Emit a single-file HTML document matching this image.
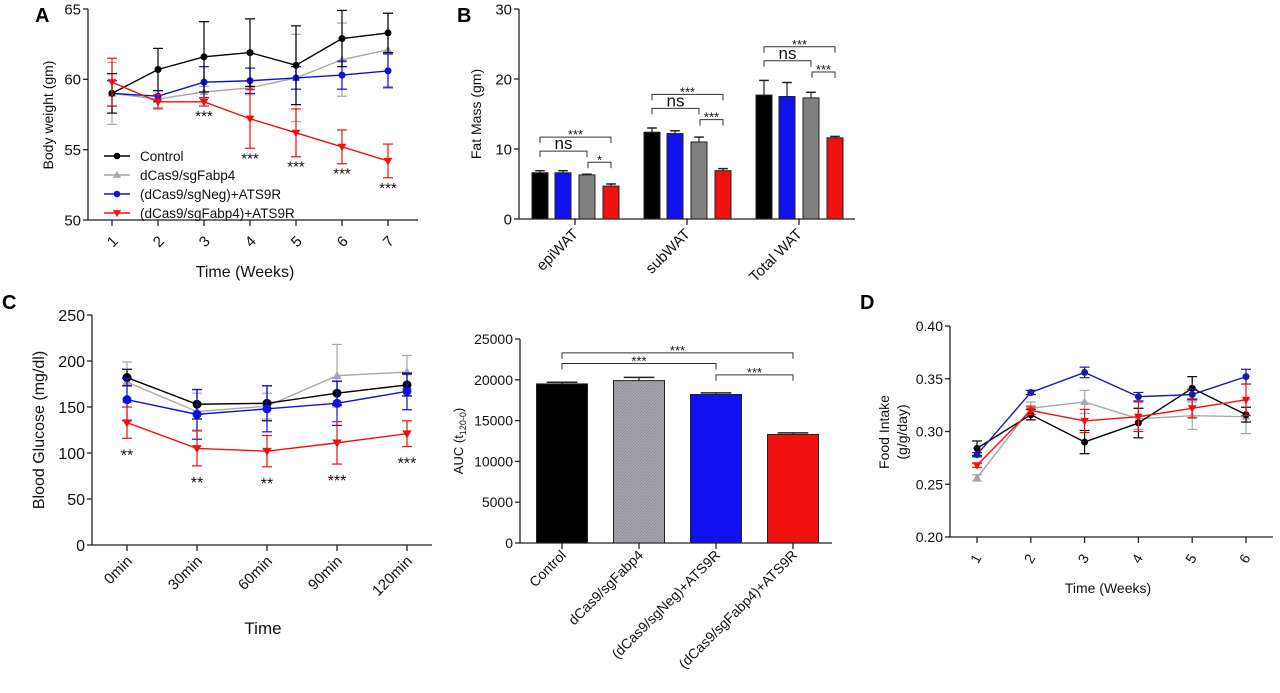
<!DOCTYPE html>
<html><head><meta charset="utf-8"><style>
html,body{margin:0;padding:0;background:#fff;}
svg{display:block;font-family:"Liberation Sans",Arial,sans-serif;}
</style></head><body>
<svg id="fig" width="1280" height="693" viewBox="0 0 1280 693" xmlns="http://www.w3.org/2000/svg">
<defs>
<pattern id="hatch" width="3" height="3" patternUnits="userSpaceOnUse"><rect width="3" height="3" fill="#a8a8ae"/><path d="M0,3 L3,0" stroke="#8a8a90" stroke-width="0.8"/></pattern>
</defs>
<text x="35" y="22" font-size="20" font-weight="bold">A</text>
<text x="457" y="22" font-size="20" font-weight="bold">B</text>
<text x="2" y="309" font-size="20" font-weight="bold">C</text>
<text x="860" y="309" font-size="20" font-weight="bold">D</text>
</svg>
<script>
// ---------- DATA ----------
const groups = ["Control","dCas9/sgFabp4","(dCas9/sgNeg)+ATS9R","(dCas9/sgFabp4)+ATS9R"];
const colors = ["#000000","#a8a8a8","#1010e0","#f01010"];
const markers = ["circle","triUp","circle","triDown"];

const weekLabelsA = ["1","2","3","4","5","6","7"];
const bwControl = [59.0,60.7,61.6,61.9,61.0,62.9,63.3];
const bwControlErr = [1.4,1.5,2.5,2.4,2.8,2.0,1.4];
const bwFabp4 = [59.0,58.6,59.1,59.4,60.1,61.4,62.1];
const bwFabp4Err = [2.2,0.6,0.4,0.5,3.1,2.6,2.6];
const bwNeg = [59.0,58.8,59.8,59.9,60.1,60.3,60.6];
const bwNegErr = [0.9,0.4,1.1,0.9,0.8,1.0,1.2];
const bwFabp4ATS = [59.8,58.4,58.4,57.2,56.2,55.2,54.2];
const bwFabp4ATSErr = [1.7,0.5,0.3,2.1,1.7,1.2,1.2];
const bwStars = ["","","***","***","***","***","***"];
const ticksA = [50,55,60,65];

const fatCats = ["epiWAT","subWAT","Total WAT"];
const fatControl = [6.6,12.4,17.7];
const fatControlErr = [0.3,0.6,2.1];
const fatNeg = [6.6,12.2,17.5];
const fatNegErr = [0.3,0.4,2.0];
const fatFabp4 = [6.3,11.0,17.3];
const fatFabp4Err = [0.1,0.7,0.8];
const fatFabp4ATS = [4.7,6.9,11.6];
const fatFabp4ATSErr = [0.3,0.3,0.2];
const ticksB = [0,10,20,30];

const timeLabelsC = ["0min","30min","60min","90min","120min"];
const bgControl = [182,153,154,165,174];
const bgControlErr = [9,16,19,13,12];
const bgFabp4 = [177,145,151,184,188];
const bgFabp4Err = [22,20,14,34,18];
const bgNeg = [158,142,148,154,167];
const bgNegErr = [23,27,25,24,20];
const bgFabp4ATS = [133,105,102,111,121];
const bgFabp4ATSErr = [17,19,17,23,14];
const bgStars = ["**","**","**","***","***"];
const ticksC = [0,50,100,150,200,250];

const aucValues = [19500,19900,18200,13300];
const aucErr = [200,400,200,200];
const ticksAUC = [0,5000,10000,15000,20000,25000];

const weekLabelsD = ["1","2","3","4","5","6"];
const fiControl = [0.284,0.316,0.290,0.308,0.341,0.316];
const fiControlErr = [0.007,0.005,0.011,0.014,0.011,0.007];
const fiFabp4 = [0.256,0.322,0.328,0.312,0.315,0.314];
const fiFabp4Err = [0.003,0.006,0.011,0.010,0.013,0.016];
const fiNeg = [0.278,0.337,0.356,0.333,0.335,0.352];
const fiNegErr = [0.002,0.002,0.005,0.004,0.005,0.007];
const fiFabp4ATS = [0.268,0.320,0.310,0.314,0.322,0.330];
const fiFabp4ATSErr = [0.002,0.004,0.011,0.014,0.009,0.015];
const ticksD = [0.20,0.25,0.30,0.35,0.40];

// ---------- HELPERS ----------
const svg = document.getElementById('fig');
const NS = "http://www.w3.org/2000/svg";
function mk(tag, attrs, parent){
  const e = document.createElementNS(NS, tag);
  for (const k in attrs) e.setAttribute(k, attrs[k]);
  (parent||svg).appendChild(e);
  return e;
}
function txt(x,y,s,size,anchor,parent,rot){
  const t = mk('text',{x:x,y:y,'font-size':size,'text-anchor':anchor||'middle',fill:'#111'},parent);
  if(rot!==undefined) t.setAttribute('transform','rotate('+rot+' '+x+' '+y+')');
  t.textContent = s;
  return t;
}
function linScale(d0,d1,r0,r1){return v=>r0+(v-d0)*(r1-r0)/(d1-d0);}
function marker(g,type,x,y,c,r){
  if(type==='circle') return mk('circle',{cx:x,cy:y,r:r,fill:c},g);
  const s=r*1.25;
  if(type==='triUp') return mk('path',{d:`M${x},${y-s} L${x+s},${y+s*0.7} L${x-s},${y+s*0.7}Z`,fill:c},g);
  return mk('path',{d:`M${x},${y+s} L${x+s},${y-s*0.7} L${x-s},${y-s*0.7}Z`,fill:c},g);
}
function yAxis(g,x,y,ticks,fmt,fs,top,bottom){
  mk('line',{x1:x,y1:top,x2:x,y2:bottom,stroke:'#222','stroke-width':1.3},g);
  ticks.forEach(t=>{const yy=y(t);
    mk('line',{x1:x-5,y1:yy,x2:x,y2:yy,stroke:'#222','stroke-width':1.3},g);
    const l=txt(x-7,yy+fs*0.36,fmt(t),fs,'end',g);
    
    
  });
}
function lineSeries(g,xs,y,vals,errs,color,mtype,r,name){
  const sg = mk('g',{},g);
  
  
  vals.forEach((v,i)=>{
    const x=xs(i), y1=y(v+errs[i]), y2=y(v-errs[i]);
    mk('line',{x1:x,y1:y1,x2:x,y2:y2,stroke:color,'stroke-width':1.2},sg);
    mk('line',{x1:x-5,y1:y1,x2:x+5,y2:y1,stroke:color,'stroke-width':1.2},sg);
    mk('line',{x1:x-5,y1:y2,x2:x+5,y2:y2,stroke:color,'stroke-width':1.2},sg);
  });
  mk('polyline',{points:vals.map((v,i)=>xs(i)+','+y(v)).join(' '),fill:'none',stroke:color,'stroke-width':1.4},sg);
  vals.forEach((v,i)=>{const m=marker(sg,mtype,xs(i),y(v),color,r);
    
    
  });
}
function bracket(g,x1,x2,yy,label,fs){
  mk('path',{d:`M${x1},${yy+6} L${x1},${yy} L${x2},${yy} L${x2},${yy+6}`,fill:'none',stroke:'#333','stroke-width':1},g);
  const t=txt((x1+x2)/2,label==='ns'?yy-2:yy+2,label,label==='ns'?fs+4:fs,'middle',g);
  
  
}
function bar(g,x,w,y,v,e,fill,name){
  const b=mk('rect',{x:x-w/2,y:y(v),width:w,height:y(0)-y(v),fill:fill,stroke:'#222','stroke-width':1},g);
  
  
  mk('line',{x1:x,y1:y(v),x2:x,y2:y(v+e),stroke:'#222','stroke-width':1.2},g);
  mk('line',{x1:x-w*0.3,y1:y(v+e),x2:x+w*0.3,y2:y(v+e),stroke:'#222','stroke-width':1.5},g);
}

// ---------- PANEL A ----------
(function(){
  const g=mk('g',{});
  
  
  const y=linScale(50,65,220,9);
  const xs=i=>112+i*46;
  yAxis(g,88,y,ticksA,t=>String(t),15,9,220);
  mk('line',{x1:88,y1:220,x2:418,y2:220,stroke:'#222','stroke-width':1.3},g);
  weekLabelsA.forEach((w,i)=>{
    mk('line',{x1:xs(i),y1:220,x2:xs(i),y2:226,stroke:'#222','stroke-width':1.3},g);
    const l=txt(xs(i)+4,245,w,15,'middle',g,-45);
    
    
  });
  const xt=txt(245,277,'Time (Weeks)',16,'middle',g);
  
  
  const yt=txt(53,115,'Body weight (gm)',14,'middle',g,-90);
  
  
  const series=[[bwControl,bwControlErr],[bwFabp4,bwFabp4Err],[bwNeg,bwNegErr],[bwFabp4ATS,bwFabp4ATSErr]];
  [1,2,0,3].forEach(k=>lineSeries(g,xs,y,series[k][0],series[k][1],colors[k],markers[k],3.5,'series-'+k));
  bwStars.forEach((s,i)=>{ if(!s) return;
    const st=txt(xs(i),y(bwFabp4ATS[i]-bwFabp4ATSErr[i])+15,s,15,'middle',g);
    
    
  });
  groups.forEach((name,k)=>{
    const ly=156+k*19;
    const lg=mk('g',{},g);
    
    
    mk('line',{x1:104,y1:ly,x2:130,y2:ly,stroke:colors[k],'stroke-width':1.4},lg);
    marker(lg,markers[k],117,ly,colors[k],3.3);
    txt(140,ly+5,name,13.5,'start',lg);
  });
})();

// ---------- PANEL B ----------
(function(){
  const g=mk('g',{});
  
  
  const y=linScale(0,30,219,9);
  yAxis(g,519,y,ticksB,t=>String(t),15,9,219);
  mk('line',{x1:519,y1:219,x2:855,y2:219,stroke:'#222','stroke-width':1.3},g);
  const yt=txt(481,114,'Fat Mass (gm)',14,'middle',g,-90);
  
  
  const vals=[fatControl,fatNeg,fatFabp4,fatFabp4ATS];
  const errs=[fatControlErr,fatNegErr,fatFabp4Err,fatFabp4ATSErr];
  const fills=['#000','#1010f0','#808080','#f01010'];
  const offs=[-35,-12,12,36];
  fatCats.forEach((c,i)=>{
    const cx=575+i*112;
    mk('line',{x1:cx,y1:219,x2:cx,y2:225,stroke:'#222','stroke-width':1.3},g);
    const l=txt(cx+4,235,c,15,'end',g,-45);
    
    
    for(let k=0;k<4;k++) bar(g,cx+offs[k],16,y,vals[k][i],errs[k][i],fills[k],'bar-'+c+'-'+k);
    const top=Math.max(...vals.map((v,k)=>v[i]+errs[k][i]));
    bracket(g,cx+offs[0],cx+offs[3],y(top+4.8),'***',13);
    bracket(g,cx+offs[0],cx+offs[2],y(top+2.8),'ns',13);
    bracket(g,cx+offs[2]+1,cx+offs[3],y(top+1.2),i===0?'*':'***',13);
  });
})();

// ---------- PANEL C ----------
(function(){
  const g=mk('g',{});
  
  
  const y=linScale(0,250,545,315);
  const xs=i=>127+i*70;
  yAxis(g,92,y,ticksC,t=>String(t),16,315,545);
  mk('line',{x1:92,y1:545,x2:432,y2:545,stroke:'#222','stroke-width':1.3},g);
  timeLabelsC.forEach((w,i)=>{
    mk('line',{x1:xs(i),y1:545,x2:xs(i),y2:551,stroke:'#222','stroke-width':1.3},g);
    const l=txt(xs(i)+6,562,w,15,'end',g,-45);
    
    
  });
  const xt=txt(263,634,'Time',17,'middle',g);
  
  
  const yt=txt(44,430,'Blood Glucose (mg/dl)',16,'middle',g,-90);
  
  
  const series=[[bgControl,bgControlErr],[bgFabp4,bgFabp4Err],[bgNeg,bgNegErr],[bgFabp4ATS,bgFabp4ATSErr]];
  [1,0,2,3].forEach(k=>lineSeries(g,xs,y,series[k][0],series[k][1],colors[k],markers[k],k===2||k===0?4.5:3.8,'series-'+k));
  bgStars.forEach((s,i)=>{
    const st=txt(xs(i),y(bgFabp4ATS[i]-bgFabp4ATSErr[i])+22,s,16,'middle',g);
    
    
  });
})();

// ---------- PANEL AUC ----------
(function(){
  const g=mk('g',{});
  
  
  const y=linScale(0,25000,543,339);
  yAxis(g,520,y,ticksAUC,t=>String(t),14,339,543);
  mk('line',{x1:520,y1:543,x2:832,y2:543,stroke:'#222','stroke-width':1.3},g);
  const yt=mk('text',{x:463,y:441,'font-size':13,'text-anchor':'middle',fill:'#111',transform:'rotate(-90 463 441)'},g);
  yt.innerHTML='AUC (t<tspan font-size="9" dy="3">120-0</tspan><tspan dy="-3">)</tspan>';
  
  
  const fills=['#000','url(#hatch)','#1010f0','#f01010'];
  const xs=i=>562+i*77;
  groups.forEach((n,i)=>{
    bar(g,xs(i),51,y,aucValues[i],aucErr[i],fills[i],'auc-bar-'+i);
    mk('line',{x1:xs(i),y1:543,x2:xs(i),y2:549,stroke:'#222','stroke-width':1.3},g);
    const l=txt(xs(i)+5,556,n,14,'end',g,-45);
    
    
  });
  bracket(g,xs(0),xs(3),y(23300),'***',13);
  bracket(g,xs(0),xs(2),y(22000),'***',13);
  bracket(g,xs(2),xs(3),y(20600),'***',13);
})();

// ---------- PANEL D ----------
(function(){
  const g=mk('g',{});
  
  
  const y=linScale(0.20,0.40,537,326);
  const xs=i=>977+i*53.8;
  yAxis(g,950,y,ticksD,t=>t.toFixed(2),14,326,537);
  mk('line',{x1:950,y1:537,x2:1273,y2:537,stroke:'#222','stroke-width':1.3},g);
  weekLabelsD.forEach((w,i)=>{
    mk('line',{x1:xs(i),y1:537,x2:xs(i),y2:543,stroke:'#222','stroke-width':1.3},g);
    const l=txt(xs(i)+3,561,w,14,'middle',g,-60);
    
    
  });
  const xt=txt(1108,593,'Time (Weeks)',14,'middle',g);
  
  
  const yt1=txt(889,432,'Food Intake',14,'middle',g,-90);
  
  
  const yt2=txt(907,432,'(g/g/day)',14,'middle',g,-90);
  
  
  const series=[[fiControl,fiControlErr],[fiFabp4,fiFabp4Err],[fiNeg,fiNegErr],[fiFabp4ATS,fiFabp4ATSErr]];
  [1,0,2,3].forEach(k=>lineSeries(g,xs,y,series[k][0],series[k][1],k===2?'#1a1ab0':colors[k],markers[k],3.5,'series-'+k));
})();
</script>
</body></html>
